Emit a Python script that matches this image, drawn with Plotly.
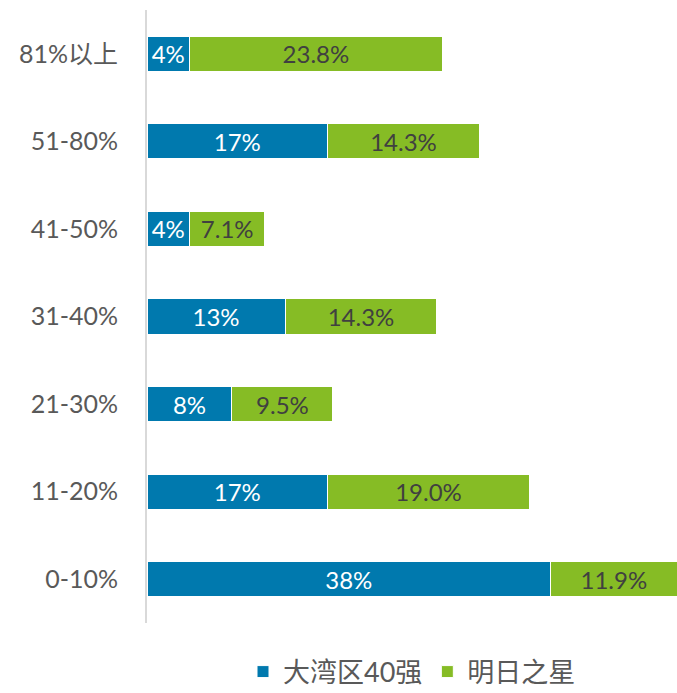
import plotly.graph_objects as go

categories = ["0-10%", "11-20%", "21-30%", "31-40%", "41-50%", "51-80%", "81%以上"]
bay40 = [38, 17, 8, 13, 4, 17, 4]
stars = [11.9, 19.0, 9.5, 14.3, 7.1, 14.3, 23.8]
bay40_labels = [f"{v}%" for v in bay40]
stars_labels = [f"{v:.1f}%" for v in stars]

FONT = "Lato, 'Noto Sans CJK SC', sans-serif"

fig = go.Figure()
fig.add_trace(go.Bar(
    y=categories, x=bay40, orientation="h", name="大湾区40强",
    marker=dict(color="#0079AE", line=dict(color="white", width=1)),
    text=bay40_labels, textposition="inside", insidetextanchor="middle",
    textfont=dict(color="white", size=24, family=FONT),
))
fig.add_trace(go.Bar(
    y=categories, x=stars, orientation="h", name="明日之星",
    marker=dict(color="#86BC25", line=dict(color="white", width=1)),
    text=stars_labels, textposition="inside", insidetextanchor="middle",
    textfont=dict(color="#404040", size=24, family=FONT),
))

fig.update_layout(
    barmode="stack",
    bargap=0.6,
    width=677, height=693,
    margin=dict(l=147, r=0, t=10, b=70, autoexpand=False),
    paper_bgcolor="white", plot_bgcolor="white",
    font=dict(family=FONT, size=25, color="#595959"),
    uniformtext=dict(minsize=24, mode="show"),
    showlegend=True,
    legend=dict(orientation="h", x=0.5, xanchor="center", y=-0.08, yanchor="middle",
                font=dict(size=27, color="#595959"), itemwidth=30,
                traceorder="normal"),
    xaxis=dict(range=[0, 49.9], showgrid=False, zeroline=False, showticklabels=False,
               showline=False, fixedrange=True),
    yaxis=dict(categoryorder="array", categoryarray=categories,
               range=[-0.5, 6.5],
               showline=True, linecolor="#D9D9D9", linewidth=2,
               showgrid=False, zeroline=False,
               ticks="outside", ticklen=22, tickcolor="rgba(0,0,0,0)",
               tickfont=dict(size=25, color="#595959")),
)

fig.write_html(
    "out.html",
    config={"displayModeBar": False},
    post_script="document.body.style.margin='0';document.body.style.overflow='hidden';",
)
